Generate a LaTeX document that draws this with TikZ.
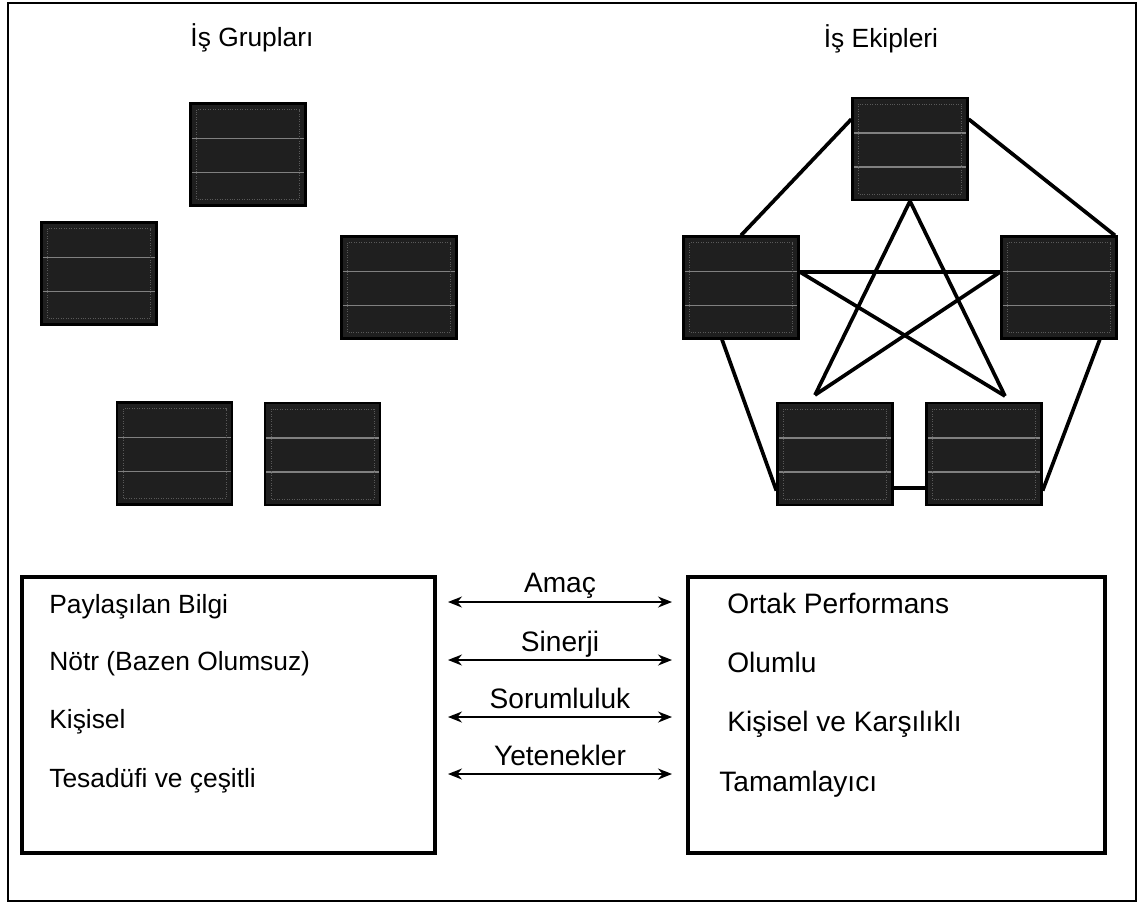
\documentclass[tikz,border=0pt]{standalone}
\usepackage{fontspec}
\setmainfont{Liberation Sans}
\usetikzlibrary{arrows.meta}

\begin{document}
\begin{tikzpicture}[
    x=0.02cm, y=-0.02cm,
    font=\fontsize{16}{18}\selectfont,
    member/.style={rectangle, draw, line width=1.3pt, fill=black!88, inner sep=0pt,
        minimum width=2.3cm, minimum height=2.04cm,
        path picture={
            \draw[black!50, line width=0.6pt]
                ([yshift=-0.70cm]path picture bounding box.north west) -- ([yshift=-0.70cm]path picture bounding box.north east)
                ([yshift=-1.38cm]path picture bounding box.north west) -- ([yshift=-1.38cm]path picture bounding box.north east);
            \draw[black!65, line width=0.4pt, densely dotted]
                ([xshift=0.12cm,yshift=-0.12cm]path picture bounding box.north west) rectangle ([xshift=-0.12cm,yshift=0.12cm]path picture bounding box.south east);
        }},
    link/.style={line width=2.1pt},
    panel/.style={rectangle, draw, line width=1.9pt, inner sep=0pt, minimum height=5.52cm},
    item/.style={anchor=base west, inner sep=0pt},
    title/.style={anchor=base, font=\fontsize{15}{17}\selectfont},
    arrow/.style={{Stealth[length=2.8mm,width=2.2mm]}-{Stealth[length=2.8mm,width=2.2mm]}, line width=0.9pt}
]
    \useasboundingbox (0,0) rectangle (1140,904);
    \draw[line width=0.6pt] (8,3) rectangle (1136,901);

    % Titles
    \node[title] (groups) at (252,46) {İş Grupları};
    \node[title] (teams) at (881,47) {İş Ekipleri};

    % Work groups
    \node[member] (g1) at (248,154.5) {};
    \node[member] (g2) at (99,273.5) {};
    \node[member] (g3) at (399,287.5) {};
    \node[member] (g4) at (174.5,453.5) {};
    \node[member] (g5) at (322.5,454) {};

    % Work teams
    \node[member] (tp) at (910,149) {};
    \node[member] (ml) at (741,287.5) {};
    \node[member] (mr) at (1059,287.5) {};
    \node[member] (bl) at (835,454) {};
    \node[member] (br) at (984,454) {};
    \coordinate (starL) at (815,395);
    \coordinate (starR) at (1005,396);

    % Team connections
    \draw[link] (tp.153) -- (ml.north);
    \draw[link] (tp.27) -- (mr.43);
    \draw[link] (ml.250) -- (bl.212);
    \draw[link] (mr.308) -- (br.328);
    \draw[link] (bl.330) -- (br.210);
    \draw[link] (ml.15) -- (mr.165);
    \draw[link] (ml.15) -- (starR);
    \draw[link] (mr.165) -- (starL);
    \draw[link] (tp.south) -- (starL);
    \draw[link] (tp.south) -- (starR);

    % Comparison panels
    \node[panel, minimum width=8.26cm] (left) at (228.5,715) {};
    \node[panel, minimum width=8.34cm] (right) at (896.5,715) {};

    \begin{scope}[font=\fontsize{15}{17}\selectfont]
    \node[item] (l1) at (49,613) {Paylaşılan Bilgi};
    \node[item] (l2) at (49,670) {Nötr (Bazen Olumsuz)};
    \node[item] (l3) at (49,728) {Kişisel};
    \node[item] (l4) at (49,787) {Tesadüfi ve çeşitli};
    \end{scope}

    \node[item] (r1) at (727,613) {Ortak Performans};
    \node[item] (r2) at (727,672) {Olumlu};
    \node[item] (r3) at (727,731) {Kişisel ve Karşılıklı};
    \node[item] (r4) at (719,791) {Tamamlayıcı};

    % Arrows
    \coordinate (a1l) at (448,602); \coordinate (a1r) at (672,602);
    \coordinate (a2l) at (448,660); \coordinate (a2r) at (672,660);
    \coordinate (a3l) at (448,717); \coordinate (a3r) at (672,717);
    \coordinate (a4l) at (448,774); \coordinate (a4r) at (672,774);
    \draw[arrow] (a1l) -- node[anchor=base, yshift=0.19cm] (goal) {Amaç} (a1r);
    \draw[arrow] (a2l) -- node[anchor=base, yshift=0.17cm] (syn) {Sinerji} (a2r);
    \draw[arrow] (a3l) -- node[anchor=base, yshift=0.18cm] (resp) {Sorumluluk} (a3r);
    \draw[arrow] (a4l) -- node[anchor=base, yshift=0.18cm] (skill) {Yetenekler} (a4r);
\end{tikzpicture}
\end{document}
